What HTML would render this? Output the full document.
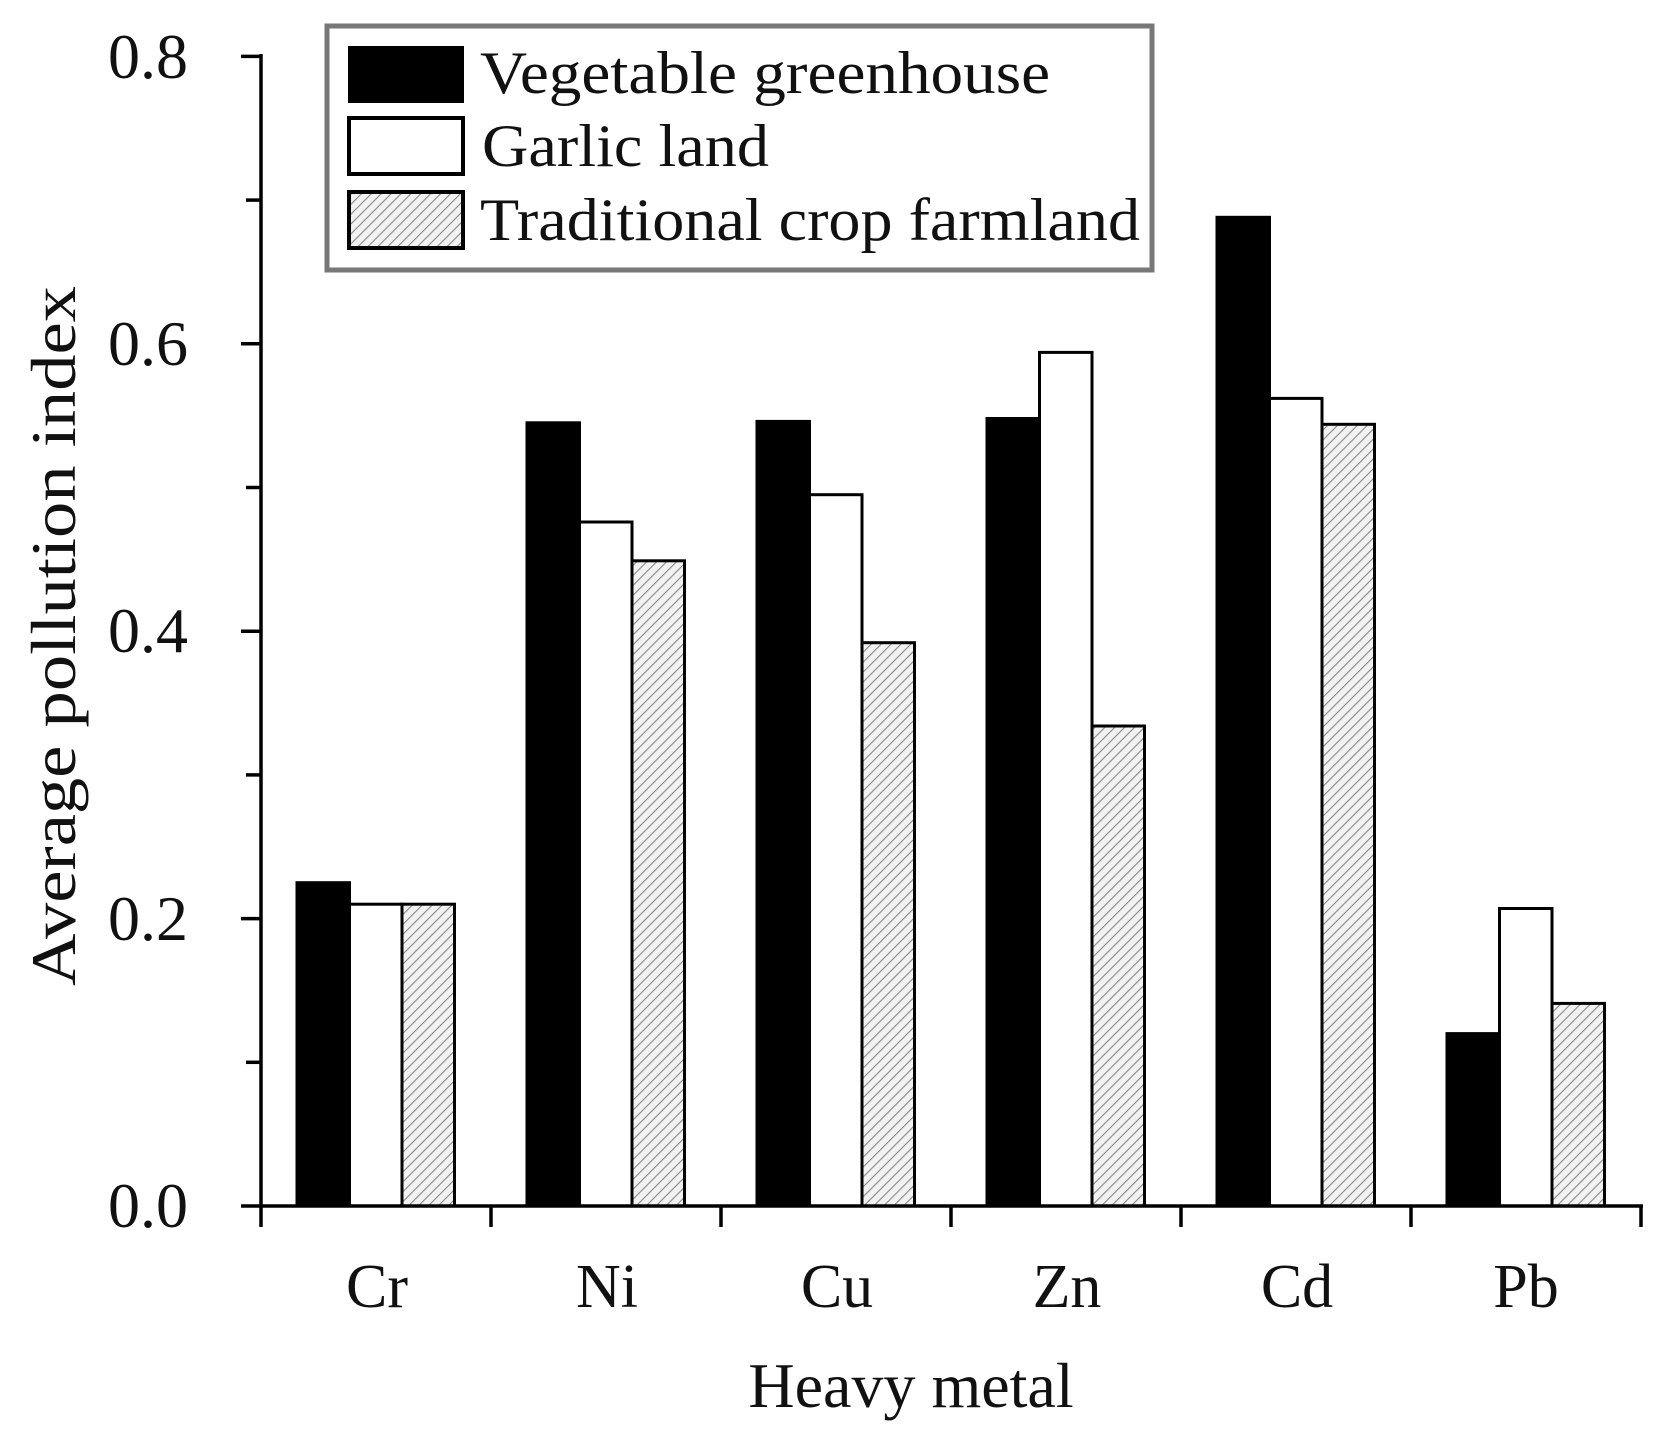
<!DOCTYPE html>
<html><head><meta charset="utf-8"><style>body{margin:0;background:#fff}</style></head><body>
<svg width="1661" height="1446" viewBox="0 0 1661 1446" xmlns="http://www.w3.org/2000/svg" font-family="Liberation Serif, serif">
<defs>
<pattern id="h" patternUnits="userSpaceOnUse" width="7" height="7" patternTransform="rotate(45)">
<rect width="7" height="7" fill="#f2f2f2"/><line x1="0" y1="0" x2="0" y2="7" stroke="#888" stroke-width="2.2"/>
</pattern>
</defs>
<rect width="1661" height="1446" fill="#fff"/>
<g stroke="#000" stroke-width="3">
<rect x="297" y="882.7" width="52.5" height="323.3" fill="#000"/>
<rect x="349.5" y="904.2" width="52.5" height="301.8" fill="#fff"/>
<rect x="402" y="904.2" width="52.5" height="301.8" fill="url(#h)"/>
<rect x="527" y="422.8" width="52.5" height="783.2" fill="#000"/>
<rect x="579.5" y="522" width="52.5" height="684" fill="#fff"/>
<rect x="632" y="560.8" width="52.5" height="645.2" fill="url(#h)"/>
<rect x="757" y="421.4" width="52.5" height="784.6" fill="#000"/>
<rect x="809.5" y="494.7" width="52.5" height="711.3" fill="#fff"/>
<rect x="862" y="642.7" width="52.5" height="563.3" fill="url(#h)"/>
<rect x="987" y="418.5" width="52.5" height="787.5" fill="#000"/>
<rect x="1039.5" y="352.4" width="52.5" height="853.6" fill="#fff"/>
<rect x="1092" y="726" width="52.5" height="480" fill="url(#h)"/>
<rect x="1217" y="217.3" width="52.5" height="988.7" fill="#000"/>
<rect x="1269.5" y="398.4" width="52.5" height="807.6" fill="#fff"/>
<rect x="1322" y="424.3" width="52.5" height="781.7" fill="url(#h)"/>
<rect x="1447" y="1033.6" width="52.5" height="172.4" fill="#000"/>
<rect x="1499.5" y="908.5" width="52.5" height="297.5" fill="#fff"/>
<rect x="1552" y="1003.4" width="52.5" height="202.6" fill="url(#h)"/>
</g>
<g stroke="#000" stroke-width="3.5" fill="none">
<line x1="261" y1="54" x2="261" y2="1227"/>
<line x1="241" y1="1206" x2="1643" y2="1206"/>
<line x1="241" y1="56.4" x2="261" y2="56.4"/>
<line x1="246" y1="200.1" x2="261" y2="200.1"/>
<line x1="241" y1="343.8" x2="261" y2="343.8"/>
<line x1="246" y1="487.5" x2="261" y2="487.5"/>
<line x1="241" y1="631.2" x2="261" y2="631.2"/>
<line x1="246" y1="774.9" x2="261" y2="774.9"/>
<line x1="241" y1="918.6" x2="261" y2="918.6"/>
<line x1="246" y1="1062.3" x2="261" y2="1062.3"/>
<line x1="491" y1="1206" x2="491" y2="1227"/>
<line x1="721" y1="1206" x2="721" y2="1227"/>
<line x1="951" y1="1206" x2="951" y2="1227"/>
<line x1="1181" y1="1206" x2="1181" y2="1227"/>
<line x1="1411" y1="1206" x2="1411" y2="1227"/>
<line x1="1641" y1="1206" x2="1641" y2="1227"/>
</g>
<g font-size="64" text-anchor="end" fill="#111">
<text x="188" y="78">0.8</text><text x="188" y="365">0.6</text><text x="188" y="652">0.4</text><text x="188" y="940">0.2</text><text x="188" y="1227">0.0</text>
</g>
<g font-size="62" text-anchor="middle" fill="#111">
<text x="377" y="1307">Cr</text><text x="607" y="1307">Ni</text><text x="837" y="1307">Cu</text><text x="1067" y="1307">Zn</text><text x="1297" y="1307">Cd</text><text x="1526" y="1307">Pb</text>
<text x="911" y="1407" font-size="64">Heavy metal</text>
<text transform="translate(75,636) rotate(-90)" font-size="64" textLength="700" lengthAdjust="spacingAndGlyphs">Average pollution index</text>
</g>
<rect x="327" y="26" width="825" height="244" fill="#fff" stroke="#777" stroke-width="5"/>
<rect x="348" y="46" width="116" height="57" fill="#000"/>
<rect x="349" y="118" width="114" height="56" fill="#fff" stroke="#000" stroke-width="4"/>
<rect x="349" y="192" width="114" height="56" fill="url(#h)" stroke="#000" stroke-width="4"/>
<g font-size="60" fill="#111">
<text x="480" y="93" textLength="570" lengthAdjust="spacingAndGlyphs">Vegetable greenhouse</text>
<text x="482" y="166" textLength="287" lengthAdjust="spacingAndGlyphs">Garlic land</text>
<text x="480" y="240" textLength="660" lengthAdjust="spacingAndGlyphs">Traditional crop farmland</text>
</g>
</svg>
</body></html>
